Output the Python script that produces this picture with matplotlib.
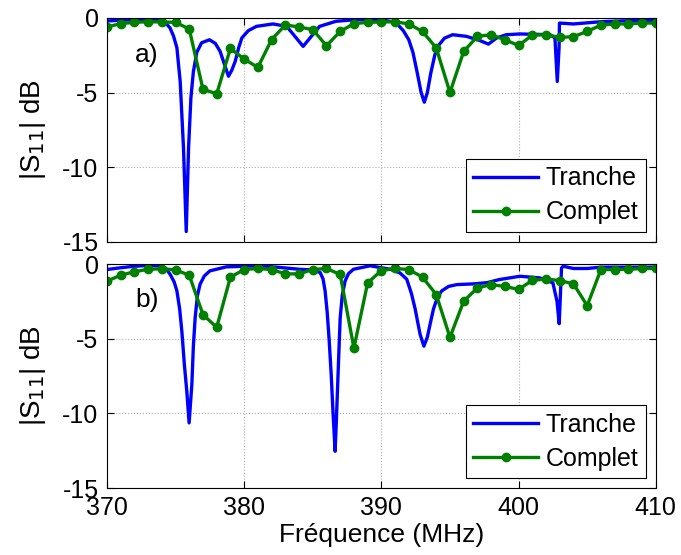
import matplotlib
matplotlib.use("Agg")
import matplotlib.pyplot as plt

plt.rcParams['font.family'] = ['Liberation Sans', 'DejaVu Sans']
plt.rcParams['axes.unicode_minus'] = False

# --- panel a) ---
fa_tranche = [370, 371, 372, 373, 374.0, 374.3, 374.6, 374.85, 375.1, 375.34, 375.58,
              375.78, 375.95, 376.12, 376.3, 376.55, 376.9, 377.47, 377.9, 378.25,
              378.6, 378.86, 379.1, 379.35, 379.6, 379.83, 380.3, 380.9, 382.1, 383.1,
              383.7, 384.3, 384.8, 385.5, 386.7, 388.2, 389.9, 390.8, 391.2, 391.6,
              392.0, 392.3, 392.6, 392.9, 393.13, 393.35, 393.6, 393.9, 394.2, 394.6,
              395.2, 396.2, 397.2, 397.8, 398.4, 399.1, 400.1, 401.5, 402.3, 402.65,
              402.82, 402.95, 402.98, 404, 406, 408, 410]
sa_tranche = [-0.2, -0.15, -0.12, -0.12, -0.2, -0.35, -0.67, -1.2, -2.0, -4.25, -8.7,
              -14.3, -8.7, -5.35, -3.6, -2.3, -1.66, -1.46, -1.7, -2.24,
              -3.2, -3.9, -3.5, -2.9, -2.0, -1.34, -0.85, -0.56, -0.4, -0.56,
              -1.23, -1.9, -1.34, -0.56, -0.22, -0.11, -0.11, -0.25, -0.45, -0.85,
              -1.46, -2.3, -3.6, -5.0, -5.64, -5.0, -3.7, -2.46, -1.8, -1.35,
              -1.12, -1.23, -1.52, -1.75, -1.34, -1.12, -1.07, -1.1, -1.12, -1.34,
              -4.25, -2.0, -0.34, -0.4, -0.25, -0.18, -0.15]

f_complet = list(range(370, 411))
sa_complet = [-0.6, -0.38, -0.29, -0.25, -0.27, -0.29, -0.74, -4.77, -5.08, -2.04,
              -2.75, -3.31, -1.45, -0.47, -0.6, -0.78, -1.86, -0.9, -0.38, -0.29,
              -0.27, -0.25, -0.4, -0.9, -2.01, -4.99, -2.24, -1.23, -1.12, -1.46,
              -1.84, -1.15, -1.12, -1.3, -1.25, -0.9, -0.48, -0.4, -0.4, -0.34, -0.34]

# --- panel b) ---
fb_tranche = [370, 371, 372, 373, 373.88, 374.3, 374.6, 374.9, 375.1, 375.3, 375.46,
              375.65, 375.82, 375.99, 376.19, 376.3, 376.43, 376.6, 376.79, 377.1,
              377.5, 378.7, 381.2, 382.6, 384, 385.0, 385.54, 385.75, 385.9, 386.05,
              386.2, 386.35, 386.46, 386.63, 386.72, 386.8, 386.9, 387.0, 387.15,
              387.36, 387.6, 387.97, 389.18, 390.64, 391.36, 391.85, 392.2, 392.46,
              392.82, 393.1, 393.35, 393.55, 393.8, 394.1, 394.4, 394.9, 395.5, 396.7,
              397.7, 398.6, 400.1, 401.55, 402.5, 402.8, 402.96, 403.13, 403.25, 404,
              405, 406, 410]
sb_tranche = [-0.37, -0.25, -0.15, -0.1, -0.12, -0.3, -0.68, -1.2, -1.8, -3.0, -4.5,
              -6.8, -8.5, -10.64, -8.06, -5.5, -3.6, -2.1, -1.35, -0.8,
              -0.46, -0.19, -0.12, -0.23, -0.35, -0.4, -0.57, -1.0, -1.8, -3.2,
              -5.15, -7.5, -9.63, -12.54, -10.5, -8.5, -6.0, -3.6, -2.1,
              -1.13, -0.65, -0.35, -0.12, -0.35, -0.6, -1.02, -2.0, -3.0,
              -4.7, -5.5, -4.9, -4.04, -3.0, -2.2, -1.8, -1.5, -1.38, -1.33,
              -1.25, -1.04, -0.82, -0.93, -1.26, -2.5, -4.0, -0.26, -0.15, -0.3,
              -0.3, -0.21, -0.21]

sb_complet = [-1.15, -0.75, -0.52, -0.35, -0.32, -0.39, -0.75, -3.39, -4.24, -0.88,
              -0.37, -0.3, -0.37, -0.66, -0.66, -0.37, -0.3, -0.7, -5.63, -1.26,
              -0.44, -0.3, -0.37, -0.88, -2.05, -4.91, -2.49, -1.6, -1.38, -1.5,
              -1.7, -1.1, -1.0, -1.11, -1.33, -2.79, -0.37, -0.37, -0.35, -0.3, -0.3]

panels = [("a)", -2.5, fa_tranche, sa_tranche, sa_complet),
          ("b)", -2.4, fb_tranche, sb_tranche, sb_complet)]

xticks = [370, 380, 390, 400, 410]
yticks = [0, -5, -10, -15]

fig = plt.figure(figsize=(6.81, 5.55), dpi=100)
ax_top = fig.add_axes([0.157, 0.564, 0.806, 0.4036])
ax_bot = fig.add_axes([0.157, 0.1207, 0.806, 0.4036])

for ax, (tag, tag_y, ft, st, sc) in zip([ax_top, ax_bot], panels):
    ax.plot(ft, st, color=(0, 0, 1), lw=2.4, label="Tranche")
    ax.plot(f_complet, sc, color=(0, 0.5, 0), lw=2.4, marker="o", ms=6,
            label="Complet")
    ax.set_xlim(370, 410)
    ax.set_ylim(-15, 0)
    ax.set_xticks(xticks)
    ax.set_yticks(yticks)
    ax.grid(True, linestyle=":", color="#b0b0b0", lw=0.8)
    ax.tick_params(direction="in", top=True, right=True, labelsize=18, length=5,
                   pad=6)
    ax.set_ylabel("|S$_{11}$| dB", fontsize=20, labelpad=10)
    ax.text(372.9, tag_y, tag, fontsize=19, va="center", ha="center")
    leg = ax.legend(loc="lower right", fontsize=18, fancybox=False, framealpha=1,
                    edgecolor="black", handlelength=2.6, borderpad=0.3,
                    labelspacing=0.4, handletextpad=0.3, borderaxespad=0.4)
    leg.get_frame().set_linewidth(0.8)
    for sp in ax.spines.values():
        sp.set_linewidth(0.8)

ax_top.tick_params(labelbottom=False)
ax_bot.set_xlabel("Fréquence (MHz)", fontsize=19, labelpad=2)

fig.savefig("out.png", dpi=100)
